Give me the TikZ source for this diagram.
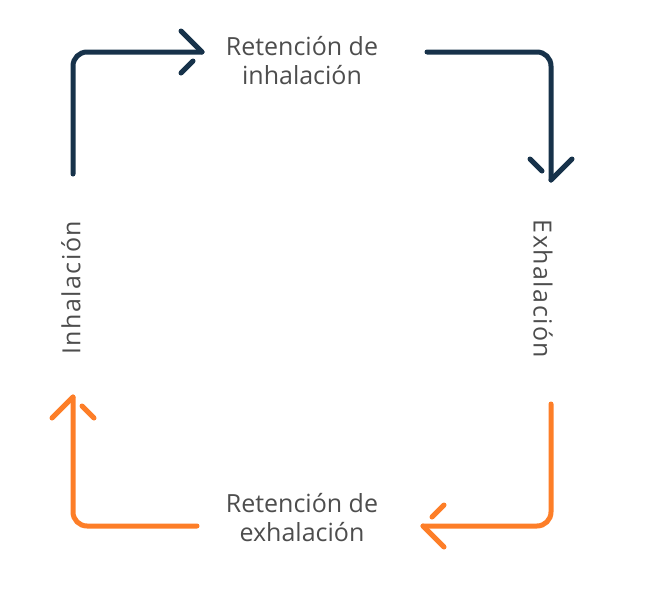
\documentclass[tikz,border=0pt]{standalone}
\usepackage{fontspec}
\setmainfont{Open Sans}
\usetikzlibrary{calc}
\definecolor{navy}{HTML}{17324A}
\definecolor{orng}{HTML}{FD7E28}
\definecolor{txt}{HTML}{4D4D4D}
\begin{document}
\begin{tikzpicture}[x=1pt,y=-1pt,
  lbl/.style={text=txt,font=\fontsize{25}{29}\selectfont,align=center,inner sep=0pt},
  vlbl/.style={lbl,font=\fontsize{25}{29}\selectfont\addfontfeature{LetterSpace=6}},
  flow/.style={line width=5pt,line cap=round,line join=round,rounded corners=14pt}]
\useasboundingbox (0,0) rectangle (645,608);
% labels
\node[lbl] (rinh) at (302,61) {Retención de\\inhalación};
\node[lbl] (rexh) at (302,518) {Retención de\\exhalación};
\node[vlbl,rotate=90] (inh) at (71,288) {Inhalación};
\node[vlbl,rotate=-90] (exh) at (543,289) {Exhalación};
% free ends
\coordinate (s1) at (73,174);
\coordinate (t1) at (202,52);
\coordinate (s2) at (427,52);
\coordinate (t2) at (551,180);
\coordinate (s3) at (551,404);
\coordinate (t3) at (423,526);
\coordinate (s4) at (197,526);
\coordinate (t4) at (73,397);
% top-left arrow (navy)
\draw[navy,flow] (s1) |- (t1);
\draw[navy,flow] (t1) -- ++(-21,-21);
\draw[navy,flow] ($(t1)+(-9,9)$) -- ++(-12,12);
% top-right arrow (navy)
\draw[navy,flow] (s2) -| (t2);
\draw[navy,flow] (t2) -- ++(21,-21);
\draw[navy,flow] ($(t2)+(-9,-9)$) -- ++(-12,-12);
% bottom-right arrow (orange)
\draw[orng,flow] (s3) |- (t3);
\draw[orng,flow] (t3) -- ++(21,21);
\draw[orng,flow] ($(t3)+(9,-9)$) -- ++(12,-12);
% bottom-left arrow (orange)
\draw[orng,flow] (s4) -| (t4);
\draw[orng,flow] (t4) -- ++(-21,21);
\draw[orng,flow] ($(t4)+(9,9)$) -- ++(12,12);
\end{tikzpicture}
\end{document}
